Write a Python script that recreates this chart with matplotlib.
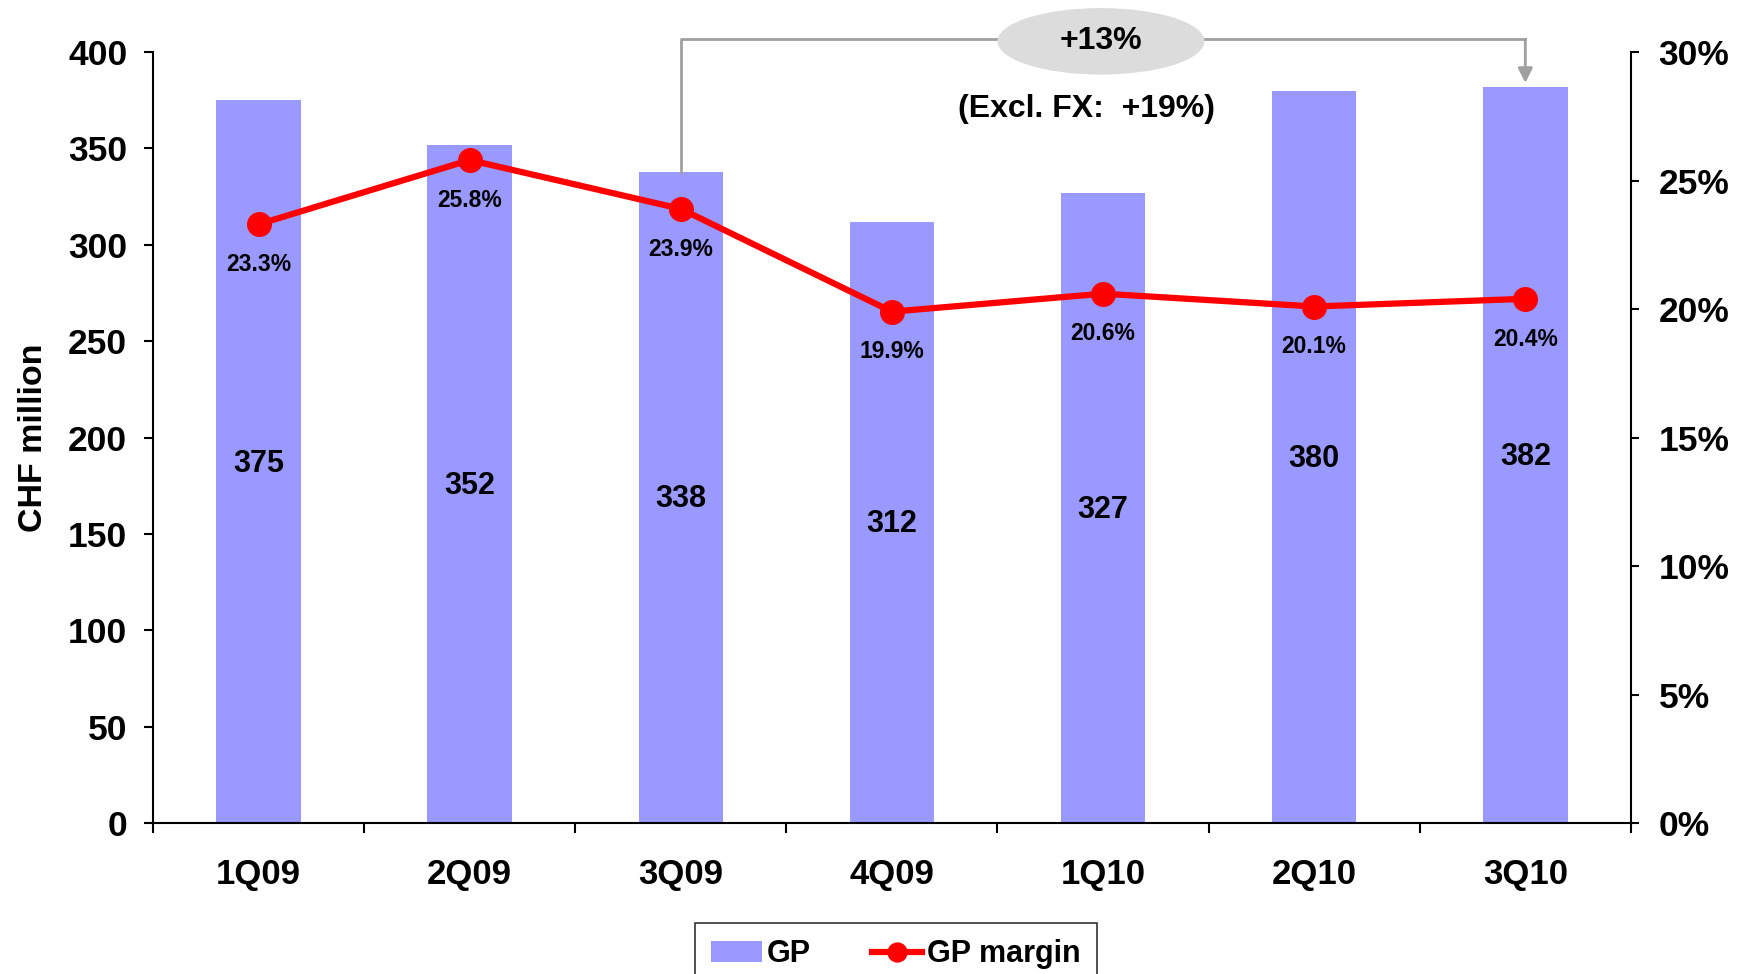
import matplotlib
matplotlib.use("Agg")
import matplotlib.pyplot as plt
from matplotlib.patches import Ellipse
from matplotlib.ticker import FuncFormatter
import numpy as np

plt.rcParams['font.family'] = ['Liberation Sans', 'DejaVu Sans']
plt.rcParams['font.weight'] = 'bold'

quarters = ["1Q09", "2Q09", "3Q09", "4Q09", "1Q10", "2Q10", "3Q10"]
gp = [375, 352, 338, 312, 327, 380, 382]
gp_margin = [23.3, 25.8, 23.9, 19.9, 20.6, 20.1, 20.4]
growth_label = "+13%"
growth_fx_label = "(Excl. FX:  +19%)"

bar_color = "#9999ff"
line_color = "#ff0000"
note_gray = "#a0a0a0"

fig = plt.figure(figsize=(17.48, 9.74), dpi=100)
ax = fig.add_axes([0.0875, 0.155, 0.8455, 0.7915])
ax2 = ax.twinx()

x = np.arange(len(quarters))
bars = ax.bar(x, gp, width=0.4, color=bar_color, zorder=2, label="GP")
ax.set_xlim(-0.5, len(quarters) - 0.5)
ax.set_ylim(0, 400)
ax.set_yticks(np.arange(0, 401, 50))

for xi, v in zip(x, gp):
    ax.text(xi, v / 2 - 1, f"{v}", ha="center", va="center", fontsize=22,
            fontweight="bold", zorder=5)

ax2.set_ylim(0, 30)
ax2.set_yticks(np.arange(0, 31, 5))
ax2.yaxis.set_major_formatter(FuncFormatter(lambda v, p: f"{v:.0f}%"))
line, = ax2.plot(x, gp_margin, color=line_color, lw=4.5, marker="o",
                 markersize=17, zorder=4, label="GP margin")
for xi, v in zip(x, gp_margin):
    ax2.annotate(f"{v:.1f}%", (xi, v), xytext=(0, -29), textcoords="offset points",
                 ha="center", va="center", fontsize=16.5, fontweight="bold")

# axes styling
for a in (ax, ax2):
    a.spines["top"].set_visible(False)
    for s in ("left", "right", "bottom"):
        a.spines[s].set_linewidth(1.5)
ax.spines["right"].set_visible(False)
ax2.spines["left"].set_visible(False)
ax2.spines["bottom"].set_visible(False)

ax.set_xticks(x)
ax.set_xticklabels(quarters)
ax.set_xticks(np.arange(-0.5, len(quarters)), minor=True)
ax.tick_params(axis="x", which="major", length=0, pad=25, labelsize=25)
ax.tick_params(axis="x", which="minor", length=7, width=1.5, direction="out")
ax.tick_params(axis="y", length=6.5, width=1.5, pad=12, labelsize=25.5)
ax2.tick_params(axis="y", length=6, width=1.5, pad=14, labelsize=25.5)
for lbl in ax.get_xticklabels() + ax.get_yticklabels() + ax2.get_yticklabels():
    lbl.set_fontweight("bold")

ax.set_ylabel("CHF million", fontsize=24.5, fontweight="bold", labelpad=14)

# growth bracket from 3Q09 to 3Q10
i0, i1 = quarters.index("3Q09"), quarters.index("3Q10")
y_top = 406.7
ax.plot([x[i0], x[i0], x[i1]], [gp[i0], y_top, y_top], color=note_gray, lw=2,
        clip_on=False, zorder=3)
ax.annotate("", xy=(x[i1], gp[i1] + 2), xytext=(x[i1], y_top),
            arrowprops=dict(arrowstyle="-|>", color=note_gray, lw=2,
                            mutation_scale=22, shrinkA=0, shrinkB=0),
            annotation_clip=False, zorder=3)
ell = Ellipse((3.99, 405.6), 0.98, 34.5, facecolor="#dcdcdc", edgecolor="none",
              clip_on=False, zorder=4)
ax.add_patch(ell)
ax.text(3.99, 405.6, growth_label, ha="center", va="center", fontsize=23,
        fontweight="bold", zorder=5, clip_on=False)
ax.text(3.92, 370.4, growth_fx_label, ha="center", va="center", fontsize=23,
        fontweight="bold", zorder=5)

ax.set_zorder(ax2.get_zorder() - 1)
ax.patch.set_visible(False)

fig.legend(handles=[bars, line], labels=["GP", "GP margin"], loc="upper center",
           bbox_to_anchor=(0.5125, 0.0527), ncol=2, frameon=True, fancybox=False,
           edgecolor="black", prop=dict(weight="bold", size=22),
           handlelength=1.65, handletextpad=0.15, columnspacing=2.0,
           borderpad=0.55, borderaxespad=0, markerscale=0.8)
fig.legends[0].get_frame().set_linewidth(1.2)

fig.savefig("out.png", dpi=100)
